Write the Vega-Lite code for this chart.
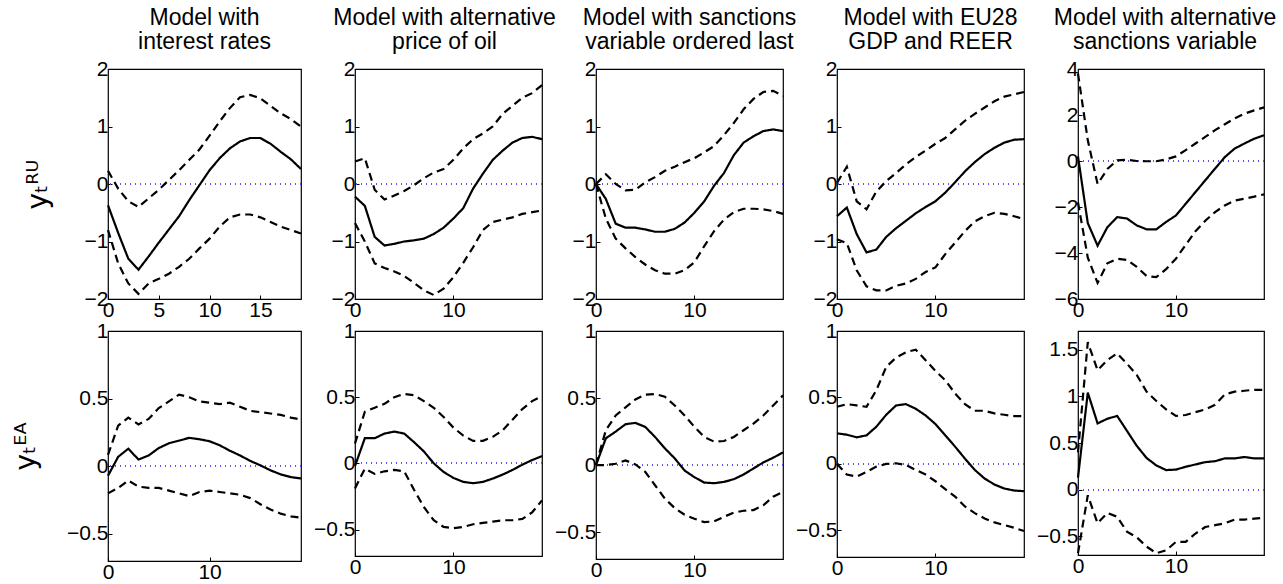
{
  "$schema": "https://vega.github.io/schema/vega-lite/v6.json",
  "description": "Impulse responses of y_t^RU and y_t^EA under five alternative model specifications",
  "padding": {"left": 11, "top": 6, "right": 0, "bottom": 0},
  "background": "white",
  "datasets": {
    "irf": [
      {"p":"a1","h":0,"med":-0.37,"hi":0.23,"lo":-0.8},
      {"p":"a1","h":1,"med":-0.85,"hi":-0.08,"lo":-1.38},
      {"p":"a1","h":2,"med":-1.3,"hi":-0.3,"lo":-1.73},
      {"p":"a1","h":3,"med":-1.49,"hi":-0.4,"lo":-1.91},
      {"p":"a1","h":4,"med":-1.26,"hi":-0.25,"lo":-1.73},
      {"p":"a1","h":5,"med":-1.02,"hi":-0.1,"lo":-1.65},
      {"p":"a1","h":6,"med":-0.79,"hi":0.07,"lo":-1.56},
      {"p":"a1","h":7,"med":-0.56,"hi":0.24,"lo":-1.44},
      {"p":"a1","h":8,"med":-0.28,"hi":0.42,"lo":-1.3},
      {"p":"a1","h":9,"med":-0.02,"hi":0.6,"lo":-1.12},
      {"p":"a1","h":10,"med":0.24,"hi":0.84,"lo":-0.95},
      {"p":"a1","h":11,"med":0.45,"hi":1.09,"lo":-0.74},
      {"p":"a1","h":12,"med":0.62,"hi":1.32,"lo":-0.58},
      {"p":"a1","h":13,"med":0.74,"hi":1.51,"lo":-0.53},
      {"p":"a1","h":14,"med":0.8,"hi":1.55,"lo":-0.53},
      {"p":"a1","h":15,"med":0.8,"hi":1.49,"lo":-0.58},
      {"p":"a1","h":16,"med":0.7,"hi":1.36,"lo":-0.66},
      {"p":"a1","h":17,"med":0.56,"hi":1.23,"lo":-0.74},
      {"p":"a1","h":18,"med":0.43,"hi":1.13,"lo":-0.8},
      {"p":"a1","h":19,"med":0.26,"hi":1.0,"lo":-0.86},

      {"p":"a2","h":0,"med":-0.22,"hi":0.39,"lo":-0.68},
      {"p":"a2","h":1,"med":-0.38,"hi":0.45,"lo":-1.0},
      {"p":"a2","h":2,"med":-0.92,"hi":-0.1,"lo":-1.38},
      {"p":"a2","h":3,"med":-1.07,"hi":-0.27,"lo":-1.46},
      {"p":"a2","h":4,"med":-1.04,"hi":-0.2,"lo":-1.52},
      {"p":"a2","h":5,"med":-1.0,"hi":-0.12,"lo":-1.6},
      {"p":"a2","h":6,"med":-0.98,"hi":-0.02,"lo":-1.72},
      {"p":"a2","h":7,"med":-0.95,"hi":0.1,"lo":-1.85},
      {"p":"a2","h":8,"med":-0.87,"hi":0.2,"lo":-1.93},
      {"p":"a2","h":9,"med":-0.76,"hi":0.26,"lo":-1.82},
      {"p":"a2","h":10,"med":-0.6,"hi":0.42,"lo":-1.62},
      {"p":"a2","h":11,"med":-0.42,"hi":0.62,"lo":-1.37},
      {"p":"a2","h":12,"med":-0.08,"hi":0.78,"lo":-1.1},
      {"p":"a2","h":13,"med":0.18,"hi":0.88,"lo":-0.8},
      {"p":"a2","h":14,"med":0.42,"hi":1.0,"lo":-0.66},
      {"p":"a2","h":15,"med":0.58,"hi":1.22,"lo":-0.62},
      {"p":"a2","h":16,"med":0.72,"hi":1.36,"lo":-0.58},
      {"p":"a2","h":17,"med":0.8,"hi":1.5,"lo":-0.52},
      {"p":"a2","h":18,"med":0.82,"hi":1.58,"lo":-0.49},
      {"p":"a2","h":19,"med":0.78,"hi":1.72,"lo":-0.46},

      {"p":"a3","h":0,"med":0,"hi":0,"lo":0},
      {"p":"a3","h":1,"med":-0.26,"hi":0.17,"lo":-0.6},
      {"p":"a3","h":2,"med":-0.69,"hi":0.0,"lo":-0.95},
      {"p":"a3","h":3,"med":-0.76,"hi":-0.11,"lo":-1.12},
      {"p":"a3","h":4,"med":-0.76,"hi":-0.1,"lo":-1.27},
      {"p":"a3","h":5,"med":-0.79,"hi":0.03,"lo":-1.4},
      {"p":"a3","h":6,"med":-0.83,"hi":0.12,"lo":-1.5},
      {"p":"a3","h":7,"med":-0.83,"hi":0.23,"lo":-1.56},
      {"p":"a3","h":8,"med":-0.78,"hi":0.3,"lo":-1.56},
      {"p":"a3","h":9,"med":-0.67,"hi":0.38,"lo":-1.5},
      {"p":"a3","h":10,"med":-0.5,"hi":0.45,"lo":-1.36},
      {"p":"a3","h":11,"med":-0.3,"hi":0.55,"lo":-1.08},
      {"p":"a3","h":12,"med":-0.03,"hi":0.66,"lo":-0.82},
      {"p":"a3","h":13,"med":0.19,"hi":0.85,"lo":-0.62},
      {"p":"a3","h":14,"med":0.5,"hi":1.06,"lo":-0.49},
      {"p":"a3","h":15,"med":0.72,"hi":1.3,"lo":-0.43},
      {"p":"a3","h":16,"med":0.83,"hi":1.48,"lo":-0.43},
      {"p":"a3","h":17,"med":0.92,"hi":1.6,"lo":-0.44},
      {"p":"a3","h":18,"med":0.95,"hi":1.62,"lo":-0.47},
      {"p":"a3","h":19,"med":0.92,"hi":1.53,"lo":-0.52},

      {"p":"a4","h":0,"med":-0.56,"hi":0.02,"lo":-0.96},
      {"p":"a4","h":1,"med":-0.41,"hi":0.3,"lo":-1.03},
      {"p":"a4","h":2,"med":-0.87,"hi":-0.3,"lo":-1.5},
      {"p":"a4","h":3,"med":-1.19,"hi":-0.44,"lo":-1.78},
      {"p":"a4","h":4,"med":-1.14,"hi":-0.13,"lo":-1.85},
      {"p":"a4","h":5,"med":-0.92,"hi":0.05,"lo":-1.85},
      {"p":"a4","h":6,"med":-0.77,"hi":0.19,"lo":-1.77},
      {"p":"a4","h":7,"med":-0.64,"hi":0.34,"lo":-1.73},
      {"p":"a4","h":8,"med":-0.51,"hi":0.47,"lo":-1.65},
      {"p":"a4","h":9,"med":-0.4,"hi":0.58,"lo":-1.53},
      {"p":"a4","h":10,"med":-0.3,"hi":0.7,"lo":-1.45},
      {"p":"a4","h":11,"med":-0.15,"hi":0.8,"lo":-1.22},
      {"p":"a4","h":12,"med":0.03,"hi":0.95,"lo":-1.02},
      {"p":"a4","h":13,"med":0.22,"hi":1.1,"lo":-0.82},
      {"p":"a4","h":14,"med":0.38,"hi":1.22,"lo":-0.65},
      {"p":"a4","h":15,"med":0.52,"hi":1.33,"lo":-0.56},
      {"p":"a4","h":16,"med":0.63,"hi":1.44,"lo":-0.5},
      {"p":"a4","h":17,"med":0.72,"hi":1.52,"lo":-0.52},
      {"p":"a4","h":18,"med":0.77,"hi":1.56,"lo":-0.56},
      {"p":"a4","h":19,"med":0.78,"hi":1.6,"lo":-0.61},

      {"p":"a5","h":0,"med":0.2,"hi":3.8,"lo":-1.8},
      {"p":"a5","h":1,"med":-2.7,"hi":0.9,"lo":-4.2},
      {"p":"a5","h":2,"med":-3.68,"hi":-1.0,"lo":-5.3},
      {"p":"a5","h":3,"med":-2.88,"hi":-0.35,"lo":-4.45},
      {"p":"a5","h":4,"med":-2.44,"hi":0.03,"lo":-4.25},
      {"p":"a5","h":5,"med":-2.5,"hi":0.05,"lo":-4.3},
      {"p":"a5","h":6,"med":-2.8,"hi":0.0,"lo":-4.6},
      {"p":"a5","h":7,"med":-2.97,"hi":-0.01,"lo":-5.0},
      {"p":"a5","h":8,"med":-2.97,"hi":-0.01,"lo":-5.05},
      {"p":"a5","h":9,"med":-2.65,"hi":0.07,"lo":-4.7},
      {"p":"a5","h":10,"med":-2.37,"hi":0.2,"lo":-4.25},
      {"p":"a5","h":11,"med":-1.86,"hi":0.47,"lo":-3.65},
      {"p":"a5","h":12,"med":-1.35,"hi":0.76,"lo":-3.05},
      {"p":"a5","h":13,"med":-0.84,"hi":1.05,"lo":-2.6},
      {"p":"a5","h":14,"med":-0.33,"hi":1.34,"lo":-2.22},
      {"p":"a5","h":15,"med":0.17,"hi":1.6,"lo":-1.93},
      {"p":"a5","h":16,"med":0.54,"hi":1.85,"lo":-1.72},
      {"p":"a5","h":17,"med":0.76,"hi":2.06,"lo":-1.64},
      {"p":"a5","h":18,"med":0.97,"hi":2.2,"lo":-1.55},
      {"p":"a5","h":19,"med":1.12,"hi":2.33,"lo":-1.45},

      {"p":"b1","h":0,"med":-0.07,"hi":0.085,"lo":-0.2},
      {"p":"b1","h":1,"med":0.07,"hi":0.3,"lo":-0.16},
      {"p":"b1","h":2,"med":0.13,"hi":0.36,"lo":-0.105},
      {"p":"b1","h":3,"med":0.05,"hi":0.31,"lo":-0.15},
      {"p":"b1","h":4,"med":0.08,"hi":0.35,"lo":-0.16},
      {"p":"b1","h":5,"med":0.135,"hi":0.43,"lo":-0.16},
      {"p":"b1","h":6,"med":0.17,"hi":0.48,"lo":-0.18},
      {"p":"b1","h":7,"med":0.19,"hi":0.53,"lo":-0.2},
      {"p":"b1","h":8,"med":0.21,"hi":0.51,"lo":-0.22},
      {"p":"b1","h":9,"med":0.2,"hi":0.48,"lo":-0.19},
      {"p":"b1","h":10,"med":0.185,"hi":0.47,"lo":-0.18},
      {"p":"b1","h":11,"med":0.155,"hi":0.46,"lo":-0.19},
      {"p":"b1","h":12,"med":0.115,"hi":0.47,"lo":-0.2},
      {"p":"b1","h":13,"med":0.08,"hi":0.44,"lo":-0.21},
      {"p":"b1","h":14,"med":0.04,"hi":0.41,"lo":-0.235},
      {"p":"b1","h":15,"med":0.007,"hi":0.4,"lo":-0.28},
      {"p":"b1","h":16,"med":-0.03,"hi":0.39,"lo":-0.32},
      {"p":"b1","h":17,"med":-0.06,"hi":0.38,"lo":-0.35},
      {"p":"b1","h":18,"med":-0.08,"hi":0.36,"lo":-0.37},
      {"p":"b1","h":19,"med":-0.09,"hi":0.345,"lo":-0.38},

      {"p":"b2","h":0,"med":-0.02,"hi":0.15,"lo":-0.19},
      {"p":"b2","h":1,"med":0.19,"hi":0.39,"lo":-0.04},
      {"p":"b2","h":2,"med":0.19,"hi":0.42,"lo":-0.08},
      {"p":"b2","h":3,"med":0.225,"hi":0.45,"lo":-0.06},
      {"p":"b2","h":4,"med":0.24,"hi":0.5,"lo":-0.05},
      {"p":"b2","h":5,"med":0.225,"hi":0.525,"lo":-0.06},
      {"p":"b2","h":6,"med":0.16,"hi":0.515,"lo":-0.2},
      {"p":"b2","h":7,"med":0.09,"hi":0.47,"lo":-0.33},
      {"p":"b2","h":8,"med":0.0,"hi":0.42,"lo":-0.43},
      {"p":"b2","h":9,"med":-0.065,"hi":0.35,"lo":-0.48},
      {"p":"b2","h":10,"med":-0.11,"hi":0.27,"lo":-0.49},
      {"p":"b2","h":11,"med":-0.14,"hi":0.21,"lo":-0.48},
      {"p":"b2","h":12,"med":-0.15,"hi":0.17,"lo":-0.46},
      {"p":"b2","h":13,"med":-0.14,"hi":0.17,"lo":-0.45},
      {"p":"b2","h":14,"med":-0.115,"hi":0.2,"lo":-0.44},
      {"p":"b2","h":15,"med":-0.085,"hi":0.25,"lo":-0.43},
      {"p":"b2","h":16,"med":-0.05,"hi":0.33,"lo":-0.43},
      {"p":"b2","h":17,"med":-0.01,"hi":0.41,"lo":-0.42},
      {"p":"b2","h":18,"med":0.025,"hi":0.47,"lo":-0.37},
      {"p":"b2","h":19,"med":0.055,"hi":0.51,"lo":-0.28},

      {"p":"b3","h":0,"med":0,"hi":0,"lo":0},
      {"p":"b3","h":1,"med":0.2,"hi":0.26,"lo":0},
      {"p":"b3","h":2,"med":0.25,"hi":0.37,"lo":0.01},
      {"p":"b3","h":3,"med":0.305,"hi":0.43,"lo":0.035},
      {"p":"b3","h":4,"med":0.315,"hi":0.49,"lo":0.005},
      {"p":"b3","h":5,"med":0.285,"hi":0.525,"lo":-0.05},
      {"p":"b3","h":6,"med":0.21,"hi":0.53,"lo":-0.15},
      {"p":"b3","h":7,"med":0.125,"hi":0.51,"lo":-0.25},
      {"p":"b3","h":8,"med":0.05,"hi":0.445,"lo":-0.32},
      {"p":"b3","h":9,"med":-0.04,"hi":0.37,"lo":-0.37},
      {"p":"b3","h":10,"med":-0.09,"hi":0.285,"lo":-0.4},
      {"p":"b3","h":11,"med":-0.13,"hi":0.21,"lo":-0.425},
      {"p":"b3","h":12,"med":-0.135,"hi":0.175,"lo":-0.42},
      {"p":"b3","h":13,"med":-0.125,"hi":0.18,"lo":-0.385},
      {"p":"b3","h":14,"med":-0.105,"hi":0.21,"lo":-0.355},
      {"p":"b3","h":15,"med":-0.07,"hi":0.26,"lo":-0.34},
      {"p":"b3","h":16,"med":-0.025,"hi":0.31,"lo":-0.335},
      {"p":"b3","h":17,"med":0.02,"hi":0.37,"lo":-0.3},
      {"p":"b3","h":18,"med":0.055,"hi":0.445,"lo":-0.235},
      {"p":"b3","h":19,"med":0.095,"hi":0.52,"lo":-0.2},

      {"p":"b4","h":0,"med":0.23,"hi":0.43,"lo":0},
      {"p":"b4","h":1,"med":0.22,"hi":0.45,"lo":-0.08},
      {"p":"b4","h":2,"med":0.2,"hi":0.44,"lo":-0.095},
      {"p":"b4","h":3,"med":0.215,"hi":0.43,"lo":-0.06},
      {"p":"b4","h":4,"med":0.28,"hi":0.555,"lo":-0.02},
      {"p":"b4","h":5,"med":0.37,"hi":0.73,"lo":0},
      {"p":"b4","h":6,"med":0.44,"hi":0.8,"lo":0.005},
      {"p":"b4","h":7,"med":0.45,"hi":0.84,"lo":-0.007},
      {"p":"b4","h":8,"med":0.415,"hi":0.86,"lo":-0.045},
      {"p":"b4","h":9,"med":0.365,"hi":0.78,"lo":-0.08},
      {"p":"b4","h":10,"med":0.3,"hi":0.7,"lo":-0.13},
      {"p":"b4","h":11,"med":0.215,"hi":0.63,"lo":-0.19},
      {"p":"b4","h":12,"med":0.13,"hi":0.53,"lo":-0.245},
      {"p":"b4","h":13,"med":0.04,"hi":0.45,"lo":-0.32},
      {"p":"b4","h":14,"med":-0.045,"hi":0.4,"lo":-0.37},
      {"p":"b4","h":15,"med":-0.11,"hi":0.4,"lo":-0.41},
      {"p":"b4","h":16,"med":-0.155,"hi":0.38,"lo":-0.44},
      {"p":"b4","h":17,"med":-0.185,"hi":0.37,"lo":-0.46},
      {"p":"b4","h":18,"med":-0.2,"hi":0.36,"lo":-0.48},
      {"p":"b4","h":19,"med":-0.205,"hi":0.36,"lo":-0.505},

      {"p":"b5","h":0,"med":0.13,"hi":0.4,"lo":-0.68},
      {"p":"b5","h":1,"med":1.04,"hi":1.58,"lo":-0.06},
      {"p":"b5","h":2,"med":0.71,"hi":1.28,"lo":-0.36},
      {"p":"b5","h":3,"med":0.76,"hi":1.39,"lo":-0.25},
      {"p":"b5","h":4,"med":0.79,"hi":1.46,"lo":-0.29},
      {"p":"b5","h":5,"med":0.63,"hi":1.35,"lo":-0.45},
      {"p":"b5","h":6,"med":0.47,"hi":1.23,"lo":-0.51},
      {"p":"b5","h":7,"med":0.34,"hi":1.05,"lo":-0.61},
      {"p":"b5","h":8,"med":0.26,"hi":0.95,"lo":-0.68},
      {"p":"b5","h":9,"med":0.21,"hi":0.86,"lo":-0.65},
      {"p":"b5","h":10,"med":0.215,"hi":0.79,"lo":-0.56},
      {"p":"b5","h":11,"med":0.245,"hi":0.8,"lo":-0.56},
      {"p":"b5","h":12,"med":0.27,"hi":0.83,"lo":-0.47},
      {"p":"b5","h":13,"med":0.295,"hi":0.86,"lo":-0.4},
      {"p":"b5","h":14,"med":0.305,"hi":0.91,"lo":-0.38},
      {"p":"b5","h":15,"med":0.335,"hi":1.02,"lo":-0.36},
      {"p":"b5","h":16,"med":0.335,"hi":1.05,"lo":-0.32},
      {"p":"b5","h":17,"med":0.35,"hi":1.06,"lo":-0.32},
      {"p":"b5","h":18,"med":0.335,"hi":1.07,"lo":-0.31},
      {"p":"b5","h":19,"med":0.335,"hi":1.07,"lo":-0.3}
    ]
  },
  "data": {"name": "irf"},
  "columns": 5,
  "concat": [
    {
      "width": 193, "height": 230,
      "title": {"text": ["Model with", "interest rates"]},
      "transform": [{"filter": "datum.p == 'a1'"}, {"fold": ["hi", "lo", "med"], "as": ["band", "v"]}],
      "layer": [
        {"mark": {"type": "rule", "color": "#5555ff", "strokeWidth": 1, "strokeDash": [1, 4]},
         "encoding": {"y": {"datum": 0, "type": "quantitative", "scale": {"domain": [-2, 2]}}}},
        {"mark": {"type": "line", "color": "black", "strokeWidth": 2.2},
         "encoding": {
           "x": {"field": "h", "type": "quantitative", "scale": {"domain": [0, 19]}, "axis": {"values": [0, 5, 10, 15], "title": null}},
           "y": {"field": "v", "type": "quantitative", "scale": {"domain": [-2, 2]}, "axis": {"values": [-2, -1, 0, 1, 2], "title": "yₜᴿᵁ", "titlePadding": 32}},
           "strokeDash": {"field": "band", "type": "nominal", "scale": {"domain": ["hi", "lo", "med"], "range": [[8, 5], [8, 5], [1, 0]]}, "legend": null}
         }}
      ]
    },
    {
      "width": 187, "height": 230,
      "title": {"text": ["Model with alternative", "price of oil"], "dx": -4},
      "transform": [{"filter": "datum.p == 'a2'"}, {"fold": ["hi", "lo", "med"], "as": ["band", "v"]}],
      "layer": [
        {"mark": {"type": "rule", "color": "#5555ff", "strokeWidth": 1, "strokeDash": [1, 4]},
         "encoding": {"y": {"datum": 0, "type": "quantitative", "scale": {"domain": [-2, 2]}}}},
        {"mark": {"type": "line", "color": "black", "strokeWidth": 2.2},
         "encoding": {
           "x": {"field": "h", "type": "quantitative", "scale": {"domain": [0, 19]}, "axis": {"values": [0, 10], "title": null}},
           "y": {"field": "v", "type": "quantitative", "scale": {"domain": [-2, 2]}, "axis": {"values": [-2, -1, 0, 1, 2], "title": null}},
           "strokeDash": {"field": "band", "type": "nominal", "scale": {"domain": ["hi", "lo", "med"], "range": [[8, 5], [8, 5], [1, 0]]}, "legend": null}
         }}
      ]
    },
    {
      "width": 187, "height": 230,
      "title": {"text": ["Model with sanctions", "variable ordered last"]},
      "transform": [{"filter": "datum.p == 'a3'"}, {"fold": ["hi", "lo", "med"], "as": ["band", "v"]}],
      "layer": [
        {"mark": {"type": "rule", "color": "#5555ff", "strokeWidth": 1, "strokeDash": [1, 4]},
         "encoding": {"y": {"datum": 0, "type": "quantitative", "scale": {"domain": [-2, 2]}}}},
        {"mark": {"type": "line", "color": "black", "strokeWidth": 2.2},
         "encoding": {
           "x": {"field": "h", "type": "quantitative", "scale": {"domain": [0, 19]}, "axis": {"values": [0, 10], "title": null}},
           "y": {"field": "v", "type": "quantitative", "scale": {"domain": [-2, 2]}, "axis": {"values": [-2, -1, 0, 1, 2], "title": null}},
           "strokeDash": {"field": "band", "type": "nominal", "scale": {"domain": ["hi", "lo", "med"], "range": [[8, 5], [8, 5], [1, 0]]}, "legend": null}
         }}
      ]
    },
    {
      "width": 187, "height": 230,
      "title": {"text": ["Model with EU28", "GDP and REER"]},
      "transform": [{"filter": "datum.p == 'a4'"}, {"fold": ["hi", "lo", "med"], "as": ["band", "v"]}],
      "layer": [
        {"mark": {"type": "rule", "color": "#5555ff", "strokeWidth": 1, "strokeDash": [1, 4]},
         "encoding": {"y": {"datum": 0, "type": "quantitative", "scale": {"domain": [-2, 2]}}}},
        {"mark": {"type": "line", "color": "black", "strokeWidth": 2.2},
         "encoding": {
           "x": {"field": "h", "type": "quantitative", "scale": {"domain": [0, 19]}, "axis": {"values": [0, 10], "title": null}},
           "y": {"field": "v", "type": "quantitative", "scale": {"domain": [-2, 2]}, "axis": {"values": [-2, -1, 0, 1, 2], "title": null}},
           "strokeDash": {"field": "band", "type": "nominal", "scale": {"domain": ["hi", "lo", "med"], "range": [[8, 5], [8, 5], [1, 0]]}, "legend": null}
         }}
      ]
    },
    {
      "width": 186, "height": 230,
      "title": {"text": ["Model with alternative", "sanctions variable"], "dx": -6},
      "transform": [{"filter": "datum.p == 'a5'"}, {"fold": ["hi", "lo", "med"], "as": ["band", "v"]}],
      "layer": [
        {"mark": {"type": "rule", "color": "#5555ff", "strokeWidth": 1, "strokeDash": [1, 4]},
         "encoding": {"y": {"datum": 0, "type": "quantitative", "scale": {"domain": [-6, 4]}}}},
        {"mark": {"type": "line", "color": "black", "strokeWidth": 2.2},
         "encoding": {
           "x": {"field": "h", "type": "quantitative", "scale": {"domain": [0, 19]}, "axis": {"values": [0, 10], "title": null}},
           "y": {"field": "v", "type": "quantitative", "scale": {"domain": [-6, 4]}, "axis": {"values": [-6, -4, -2, 0, 2, 4], "title": null}},
           "strokeDash": {"field": "band", "type": "nominal", "scale": {"domain": ["hi", "lo", "med"], "range": [[8, 5], [8, 5], [1, 0]]}, "legend": null}
         }}
      ]
    },
    {
      "width": 193, "height": 230,
      "transform": [{"filter": "datum.p == 'b1'"}, {"fold": ["hi", "lo", "med"], "as": ["band", "v"]}],
      "layer": [
        {"mark": {"type": "rule", "color": "#5555ff", "strokeWidth": 1, "strokeDash": [1, 4]},
         "encoding": {"y": {"datum": 0, "type": "quantitative", "scale": {"domain": [-0.7, 1]}}}},
        {"mark": {"type": "line", "color": "black", "strokeWidth": 2.2},
         "encoding": {
           "x": {"field": "h", "type": "quantitative", "scale": {"domain": [0, 19]}, "axis": {"values": [0, 10], "title": null}},
           "y": {"field": "v", "type": "quantitative", "scale": {"domain": [-0.7, 1]}, "axis": {"values": [-0.5, 0, 0.5, 1], "title": "yₜᴱᴬ", "titlePadding": 26}},
           "strokeDash": {"field": "band", "type": "nominal", "scale": {"domain": ["hi", "lo", "med"], "range": [[8, 5], [8, 5], [1, 0]]}, "legend": null}
         }}
      ]
    },
    {
      "width": 187, "height": 225,
      "transform": [{"filter": "datum.p == 'b2'"}, {"fold": ["hi", "lo", "med"], "as": ["band", "v"]}],
      "layer": [
        {"mark": {"type": "rule", "color": "#5555ff", "strokeWidth": 1, "strokeDash": [1, 4]},
         "encoding": {"y": {"datum": 0, "type": "quantitative", "scale": {"domain": [-0.7, 1]}}}},
        {"mark": {"type": "line", "color": "black", "strokeWidth": 2.2},
         "encoding": {
           "x": {"field": "h", "type": "quantitative", "scale": {"domain": [0, 19]}, "axis": {"values": [0, 10], "title": null}},
           "y": {"field": "v", "type": "quantitative", "scale": {"domain": [-0.7, 1]}, "axis": {"values": [-0.5, 0, 0.5, 1], "title": null}},
           "strokeDash": {"field": "band", "type": "nominal", "scale": {"domain": ["hi", "lo", "med"], "range": [[8, 5], [8, 5], [1, 0]]}, "legend": null}
         }}
      ]
    },
    {
      "width": 187, "height": 228,
      "transform": [{"filter": "datum.p == 'b3'"}, {"fold": ["hi", "lo", "med"], "as": ["band", "v"]}],
      "layer": [
        {"mark": {"type": "rule", "color": "#5555ff", "strokeWidth": 1, "strokeDash": [1, 4]},
         "encoding": {"y": {"datum": 0, "type": "quantitative", "scale": {"domain": [-0.7, 1]}}}},
        {"mark": {"type": "line", "color": "black", "strokeWidth": 2.2},
         "encoding": {
           "x": {"field": "h", "type": "quantitative", "scale": {"domain": [0, 19]}, "axis": {"values": [0, 10], "title": null}},
           "y": {"field": "v", "type": "quantitative", "scale": {"domain": [-0.7, 1]}, "axis": {"values": [-0.5, 0, 0.5, 1], "title": null}},
           "strokeDash": {"field": "band", "type": "nominal", "scale": {"domain": ["hi", "lo", "med"], "range": [[8, 5], [8, 5], [1, 0]]}, "legend": null}
         }}
      ]
    },
    {
      "width": 187, "height": 226,
      "transform": [{"filter": "datum.p == 'b4'"}, {"fold": ["hi", "lo", "med"], "as": ["band", "v"]}],
      "layer": [
        {"mark": {"type": "rule", "color": "#5555ff", "strokeWidth": 1, "strokeDash": [1, 4]},
         "encoding": {"y": {"datum": 0, "type": "quantitative", "scale": {"domain": [-0.7, 1]}}}},
        {"mark": {"type": "line", "color": "black", "strokeWidth": 2.2},
         "encoding": {
           "x": {"field": "h", "type": "quantitative", "scale": {"domain": [0, 19]}, "axis": {"values": [0, 10], "title": null}},
           "y": {"field": "v", "type": "quantitative", "scale": {"domain": [-0.7, 1]}, "axis": {"values": [-0.5, 0, 0.5, 1], "title": null}},
           "strokeDash": {"field": "band", "type": "nominal", "scale": {"domain": ["hi", "lo", "med"], "range": [[8, 5], [8, 5], [1, 0]]}, "legend": null}
         }}
      ]
    },
    {
      "width": 186, "height": 224,
      "transform": [{"filter": "datum.p == 'b5'"}, {"fold": ["hi", "lo", "med"], "as": ["band", "v"]}],
      "layer": [
        {"mark": {"type": "rule", "color": "#5555ff", "strokeWidth": 1, "strokeDash": [1, 4]},
         "encoding": {"y": {"datum": 0, "type": "quantitative", "scale": {"domain": [-0.7, 1.7]}}}},
        {"mark": {"type": "line", "color": "black", "strokeWidth": 2.2},
         "encoding": {
           "x": {"field": "h", "type": "quantitative", "scale": {"domain": [0, 19]}, "axis": {"values": [0, 10], "title": null}},
           "y": {"field": "v", "type": "quantitative", "scale": {"domain": [-0.7, 1.7]}, "axis": {"values": [-0.5, 0, 0.5, 1, 1.5], "title": null}},
           "strokeDash": {"field": "band", "type": "nominal", "scale": {"domain": ["hi", "lo", "med"], "range": [[8, 5], [8, 5], [1, 0]]}, "legend": null}
         }}
      ]
    }
  ],
  "spacing": {"row": 32, "column": 54},
  "bounds": "flush",
  "config": {
    "font": "Liberation Sans",
    "view": {"stroke": "black", "strokeWidth": 1.2},
    "axis": {
      "domain": false,
      "grid": false,
      "ticks": true,
      "tickSize": -4,
      "tickColor": "black",
      "labelFont": "Liberation Sans",
      "labelFontSize": 21,
      "labelColor": "black",
      "labelPadding": 4,
      "labelFlush": false,
      "labelOverlap": false,
      "labelBound": false,
      "format": "~r",
      "titleFont": "DejaVu Sans",
      "titleFontSize": 28,
      "titleFontWeight": "normal",
      "titleColor": "black",
      "titlePadding": 10
    },
    "title": {
      "font": "Liberation Sans",
      "fontSize": 23,
      "fontWeight": "normal",
      "color": "black",
      "lineHeight": 24,
      "frame": "group",
      "anchor": "middle",
      "offset": 0
    }
  }
}
